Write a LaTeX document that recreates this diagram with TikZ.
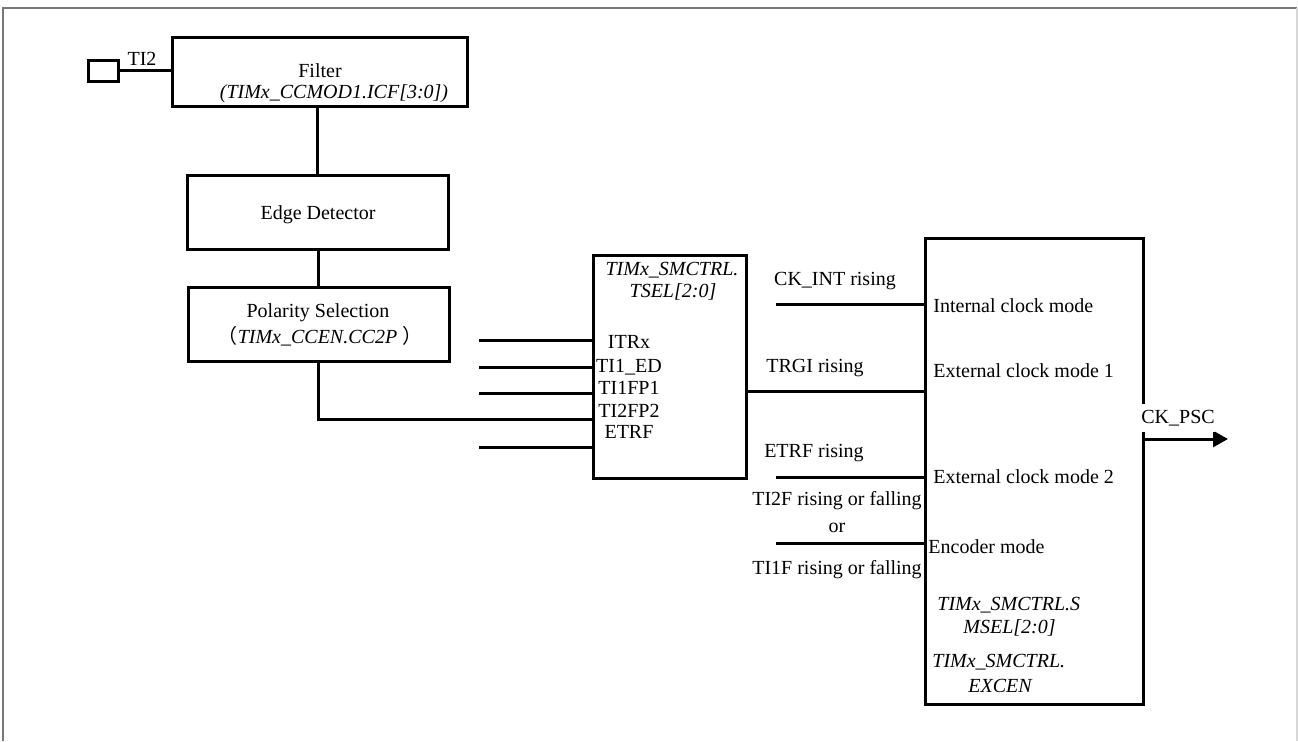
\documentclass[tikz,border=0pt]{standalone}
\usepackage{fontspec}
\setmainfont{Liberation Serif}
\newfontfamily\cjkfont{Noto Sans CJK SC}
\usetikzlibrary{arrows.meta, calc}
\definecolor{FrameGray}{RGB}{120,120,120}
\definecolor{FrameLight}{RGB}{215,215,215}
\tikzset{
  blk/.style={draw, line width=1.5pt, inner sep=0pt},
  wire/.style={line width=1.5pt},
  lbl/.style={anchor=base, inner sep=0pt, font=\fontsize{10}{12}\selectfont},
  lbll/.style={lbl, anchor=base west},
  regs/.style={font=\fontsize{10}{12}\selectfont\itshape},
}

\begin{document}
\begin{tikzpicture}[x=0.5pt, y=-0.5pt]
  \useasboundingbox (0,0) rectangle (1298,741);
  % frame
  \draw[FrameGray, line width=1pt] (3,741) -- (3,8) -- (1297,8);
  \draw[FrameLight, line width=1pt] (1297,8) -- (1297,741);

  % input capture chain
  \node[blk, minimum width=15pt, minimum height=10.5pt] (tipad) at (103,70.5) {};
  \node[blk, minimum width=147.5pt, minimum height=34.5pt] (filter) at (319.5,71.5) {};
  \node[blk, minimum width=130.5pt, minimum height=37pt] (edge) at (317.5,212) {};
  \node[blk, minimum width=130.5pt, minimum height=37pt] (polar) at (318.5,324) {};
  \node[lbl] (ti2) at (142,65) {TI2};
  \node[lbl] (filtertxt) at (320,77) {Filter};
  \node[lbl, regs] (filterreg) at (334,98) {(TIMx\_CCMOD1.ICF[3:0])};
  \node[lbl] (edgetxt) at (318,219) {Edge Detector};
  \node[lbl] (polartxt) at (318,317) {Polarity Selection};
  \node[lbl] (polarreg) at (320,343) {{\cjkfont （}\textit{TIMx\_CCEN.CC2P}~{\cjkfont ）}};
  \draw[wire] (tipad.east) -- (tipad.east -| filter.west);
  \draw[wire] (edge.north) -- (edge.north |- filter.south);
  \draw[wire] (polar.north) -- (polar.north |- edge.south);

  % trigger selection
  \node[blk, minimum width=76.5pt, minimum height=111.5pt] (tsel) at (669.5,366.5) {};
  \node[lbl, regs] (tselreg) at (672,275) {TIMx\_SMCTRL.};
  \node[lbl, regs] (tselbits) at (673,297) {TSEL[2:0]};
  \node[lbl] (itrx) at (629,348) {ITRx};
  \node[lbl] (tied) at (629,372) {TI1\_ED};
  \node[lbl] (tifpa) at (629,394) {TI1FP1};
  \node[lbl] (tifpb) at (629,417) {TI2FP2};
  \node[lbl] (etrf) at (629,438) {ETRF};
  \foreach \y in {340,367,393,447}
    \draw[wire] (479,\y) -- (tsel.west |- 0,\y);
  \draw[wire] (polar.south) -- (polar.south |- 0,419) -- (tsel.west |- 0,419);

  % slave mode controller
  \node[blk, minimum width=109pt, minimum height=233pt] (mode) at (1034,471) {};
  \coordinate (ckint) at (776,304);
  \coordinate (trgi) at (746,391);
  \coordinate (etrfin) at (776,477);
  \coordinate (encin) at (776,543);
  \coordinate (ckpsc) at (1228,439);
  \draw[wire] (ckint) -- (ckint -| mode.west);
  \draw[wire] (trgi) -- (trgi -| mode.west);
  \draw[wire] (etrfin) -- (etrfin -| mode.west);
  \draw[wire] (encin) -- (encin -| mode.west);
  \node[lbl] (ckintlbl) at (835,285) {CK\_INT rising};
  \node[lbl] (trgilbl) at (815,372) {TRGI rising};
  \node[lbl] (etrflbl) at (814,457) {ETRF rising};
  \node[lbl] (tiblbl) at (837,505) {TI2F rising or falling};
  \node[lbl] (orlbl) at (837,532) {or};
  \node[lbl] (tialbl) at (837,574) {TI1F rising or falling};
  \node[lbll] (intmode) at (933,312) {Internal clock mode};
  \node[lbll] (extone) at (933,377) {External clock mode 1};
  \node[lbll] (exttwo) at (933,483) {External clock mode 2};
  \node[lbll] (encmode) at (928,553) {Encoder mode};
  \node[lbll, regs] (smsreg) at (937,610) {TIMx\_SMCTRL.S};
  \node[lbll, regs] (smsbits) at (963,633) {MSEL[2:0]};
  \node[lbll, regs] (excreg) at (932,667) {TIMx\_SMCTRL.};
  \node[lbll, regs] (excbit) at (968,692) {EXCEN};
  \draw[wire, -{Triangle[length=7.5pt, width=8pt]}] (ckpsc -| mode.east) -- (ckpsc);
  \node[lbll, fill=white, inner ysep=3pt] (ckpsclbl) at (1141,423) {CK\_PSC};
\end{tikzpicture}
\end{document}
